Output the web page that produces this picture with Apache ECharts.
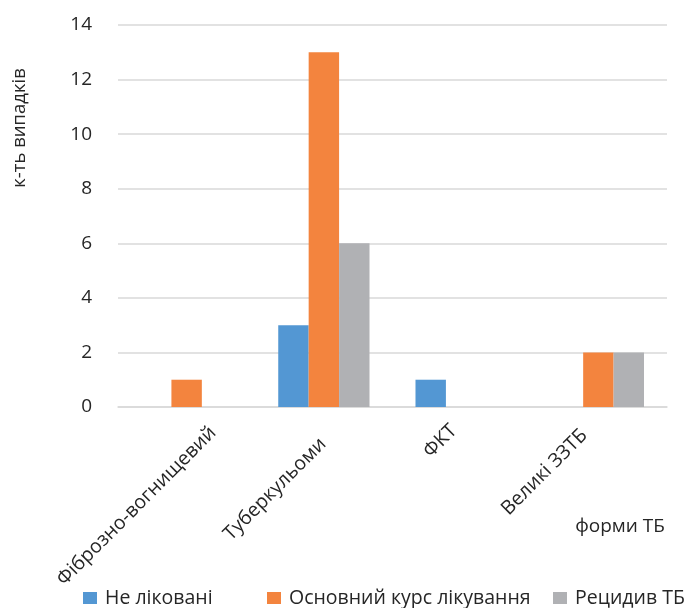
<!DOCTYPE html>
<html>
<head>
<meta charset="utf-8">
<script src="https://cdn.jsdelivr.net/npm/echarts@6/dist/echarts.min.js"></script>
<style>
  html, body { margin: 0; padding: 0; background: #fff; }
  #chart { width: 695px; height: 608px; }
</style>
</head>
<body>
<div id="chart"></div>
<script>
// Forms of TB (categories)
const categories = ['Фіброзно-вогнищевий', 'Туберкульоми', 'ФКТ', 'Великі ЗЗТБ'];
// Case counts per group
const untreated = [0, 3, 1, 0];
const mainCourse = [1, 13, 0, 2];
const relapse = [0, 6, 0, 2];
const seriesNames = ['Не ліковані', 'Основний курс лікування', 'Рецидив ТБ'];
const yTicks = { min: 0, max: 14, interval: 2 };

// Styling
const colors = ['#5397d3', '#f3843e', '#b0b1b4'];
const FONT = 'Open Sans';
const TXT = '#262626';
const X_LABEL_SIZE = 19.5;
// Centre of each slanted category label, relative to its tick on the axis line: [dx, dy] px
const labelCentre = [[-50, 99], [-49, 82], [-21, 34], [-54, 65]];
// Left edge of each legend entry
const legendLeft = [83, 267, 553];

const chart = echarts.init(document.getElementById('chart'), null, { renderer: 'canvas' });

const seriesData = [untreated, mainCourse, relapse];

// Width of a label in the axis font, used to place the rotated text by its centre
const measureCtx = document.createElement('canvas').getContext('2d');
measureCtx.font = X_LABEL_SIZE + 'px "' + FONT + '"';

const R = Math.SQRT1_2;
const categoryItems = categories.map((c, i) => {
  const [ox, oy] = labelCentre[i];
  const w = measureCtx.measureText(c).width;
  const along = R * (ox - oy);   // along the text direction (up-right)
  const across = R * (ox + oy);  // perpendicular, towards lower-right
  return {
    value: c,
    textStyle: {
      verticalAlign: 'top',
      padding: [across - X_LABEL_SIZE / 2, -along - w / 2, 0, 0]
    }
  };
});

const legends = seriesNames.map((name, i) => ({
  data: [name],
  left: legendLeft[i],
  bottom: 0,
  padding: 0,
  width: 800,
  itemWidth: 14,
  itemHeight: 12,
  icon: 'rect',
  textStyle: { fontFamily: FONT, fontSize: 19.5, color: TXT, padding: [0, 0, 0, 3] }
}));

chart.setOption({
  animation: false,
  textStyle: { fontFamily: FONT },
  grid: { left: 118, right: 28, top: 25, bottom: 201, containLabel: false },
  legend: legends,
  xAxis: {
    type: 'category',
    data: categoryItems,
    axisLine: { lineStyle: { color: '#d9d9d9', width: 1.5 } },
    axisTick: { show: false },
    axisLabel: {
      rotate: 45,
      margin: 0,
      fontFamily: FONT,
      fontSize: X_LABEL_SIZE,
      color: TXT,
      interval: 0
    }
  },
  yAxis: {
    type: 'value',
    min: yTicks.min,
    max: yTicks.max,
    interval: yTicks.interval,
    axisLine: { show: false },
    axisTick: { show: false },
    splitLine: { lineStyle: { color: '#d9d9d9', width: 1.5 } },
    axisLabel: { margin: 26, fontFamily: FONT, fontSize: 19, color: TXT }
  },
  graphic: [
    {
      type: 'text',
      x: 20, y: 128,
      rotation: Math.PI / 2,
      style: {
        text: 'к-ть випадків',
        font: '18.5px "' + FONT + '"',
        fill: TXT,
        align: 'center',
        verticalAlign: 'middle'
      }
    },
    {
      type: 'text',
      x: 620, y: 527,
      style: {
        text: 'форми ТБ',
        font: '19px "' + FONT + '"',
        fill: TXT,
        align: 'center',
        verticalAlign: 'middle'
      }
    }
  ],
  series: seriesNames.map((name, i) => ({
    name: name,
    type: 'bar',
    data: seriesData[i],
    barGap: '0%',
    barCategoryGap: '33.5%',
    itemStyle: { color: colors[i] }
  }))
});
</script>
</body>
</html>
